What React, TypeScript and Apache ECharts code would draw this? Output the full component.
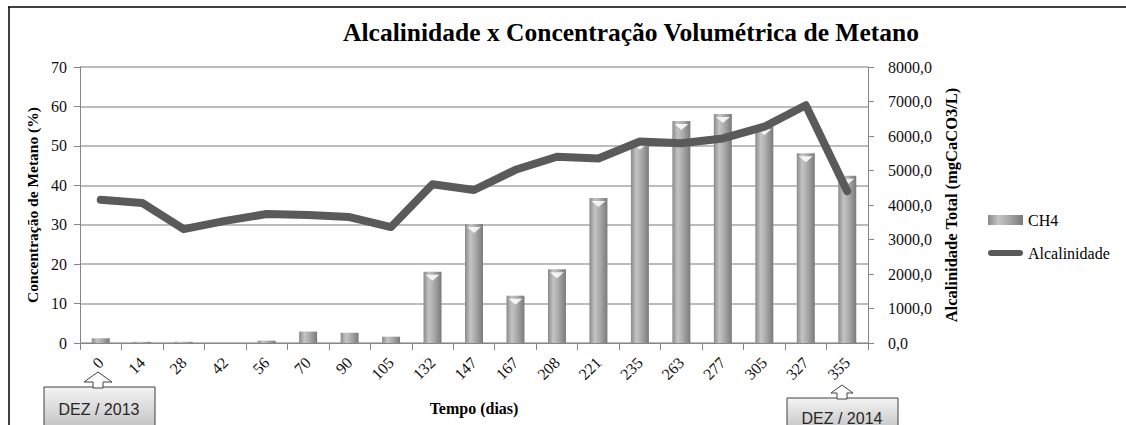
import React, { useEffect, useRef } from "react";
import * as echarts from "echarts";

const categories = ["0", "14", "28", "42", "56", "70", "90", "105", "132", "147", "167", "208", "221", "235", "263", "277", "305", "327", "355"];
const ch4 = [1.2, 0.3, 0.3, 0, 0.6, 2.9, 2.6, 1.6, 18.1, 30.2, 12.0, 18.7, 36.8, 51.3, 56.3, 58.1, 55.0, 48.1, 42.4];
const alcalinidade = [4150, 4060, 3300, 3540, 3740, 3710, 3650, 3360, 4600, 4435, 5020, 5400, 5350, 5840, 5790, 5930, 6270, 6890, 4400];
const leftTicks = { min: 0, max: 70, interval: 10 };
const rightTicks = { min: 0, max: 8000, interval: 1000 };

const SERIF = "Liberation Serif";
const SANS = "Liberation Sans";

export default function App() {
  const ref = useRef<HTMLDivElement>(null);
  useEffect(() => {
    document.body.style.margin = "0";
    const chart = echarts.init(ref.current!, null, { renderer: "svg" });
    const barGrad = new echarts.graphic.LinearGradient(0, 0, 1, 0, [
      { offset: 0, color: "#8a8a8a" },
      { offset: 0.3, color: "#c4c4c4" },
      { offset: 0.6, color: "#a8a8a8" },
      { offset: 1, color: "#7a7a7a" },
    ]);
    const boxGrad = new echarts.graphic.LinearGradient(0, 0, 0, 1, [
      { offset: 0, color: "#f4f4f4" },
      { offset: 1, color: "#b8b8b8" },
    ]);
    chart.setOption({
      animation: false,
      title: {
        text: "Alcalinidade x Concentração Volumétrica de Metano",
        left: 626,
        top: 14,
        textAlign: "center",
        textStyle: { fontFamily: SERIF, fontSize: 25.5, fontWeight: "bold", color: "#000" },
      },
      grid: { left: 80, right: 258, top: 67, bottom: 82 },
      legend: {
        orient: "vertical",
        left: 988,
        top: 212,
        padding: 0,
        itemWidth: 35,
        itemHeight: 10,
        itemGap: 17,
        textStyle: { fontFamily: SERIF, fontSize: 16, color: "#000" },
        data: [
          { name: "CH4", icon: "rect" },
          { name: "Alcalinidade", icon: "path://M3,0 h29 a3,3 0 0 1 0,6 h-29 a3,3 0 0 1 0,-6 Z", itemStyle: { color: "#5a5a5a" } },
        ],
      },
      xAxis: {
        type: "category",
        data: categories,
        name: "Tempo (dias)",
        nameLocation: "middle",
        nameGap: 57,
        nameTextStyle: { fontFamily: SERIF, fontSize: 16, fontWeight: "bold", color: "#000" },
        axisLine: { lineStyle: { color: "#868686", width: 1 } },
        axisTick: { show: true, alignWithLabel: false, length: 7, lineStyle: { color: "#868686" } },
        axisLabel: { rotate: 45, fontFamily: SERIF, fontSize: 16, color: "#111", margin: 17 },
      },
      yAxis: [
        {
          type: "value",
          ...leftTicks,
          name: "Concentração de Metano (%)",
          nameLocation: "middle",
          nameGap: 40,
          nameRotate: 90,
          nameTextStyle: { fontFamily: SERIF, fontSize: 15.5, fontWeight: "bold", color: "#000" },
          axisLine: { show: true, lineStyle: { color: "#868686" } },
          axisTick: { show: true, length: 6, lineStyle: { color: "#868686" } },
          axisLabel: { fontFamily: SERIF, fontSize: 16, color: "#111", margin: 13 },
          splitLine: { lineStyle: { color: "#a6a6a6", width: 1.5 } },
        },
        {
          type: "value",
          ...rightTicks,
          name: "Alcalinidade Total (mgCaCO3/L)",
          nameLocation: "middle",
          nameGap: 70,
          nameRotate: 90,
          nameTextStyle: { fontFamily: SERIF, fontSize: 16.5, fontWeight: "bold", color: "#000" },
          axisLine: { show: true, lineStyle: { color: "#868686" } },
          axisTick: { show: true, length: 6, lineStyle: { color: "#868686" } },
          axisLabel: {
            fontFamily: SERIF,
            fontSize: 16,
            color: "#111",
            margin: 20,
            formatter: (v: number) => v.toFixed(1).replace(".", ","),
          },
          splitLine: { show: false },
        },
      ],
      series: [
        {
          name: "CH4",
          type: "bar",
          data: ch4,
          barWidth: 18,
          barGap: "-100%",
          yAxisIndex: 0,
          itemStyle: { color: barGrad },
        },
        {
          name: "CH4top",
          type: "pictorialBar",
          data: ch4.map((v) => (v > 5 ? v : "-")),
          yAxisIndex: 0,
          symbol: "triangle",
          symbolRotate: 180,
          symbolSize: [14, 6],
          symbolPosition: "end",
          symbolOffset: [0, "50%"],
          itemStyle: { color: "rgba(255,255,255,0.85)" },
          z: 3,
          silent: true,
        },
        {
          name: "Alcalinidade",
          type: "line",
          data: alcalinidade,
          yAxisIndex: 1,
          symbol: "none",
          z: 5,
          lineStyle: { color: "#5a5a5a", width: 8, cap: "round", join: "round" },
          itemStyle: { color: "#5a5a5a" },
        },
      ],
      graphic: [
        { type: "line", shape: { x1: 8, y1: 7, x2: 1126, y2: 7 }, style: { stroke: "#000", lineWidth: 1.5 } },
        { type: "line", shape: { x1: 9, y1: 7, x2: 9, y2: 425 }, style: { stroke: "#000", lineWidth: 1.5 } },
        {
          type: "rect",
          shape: { x: 44, y: 387, width: 111, height: 50 },
          style: { fill: boxGrad, stroke: "#404040", lineWidth: 1 },
        },
        {
          type: "polygon",
          shape: { points: [[98, 372], [112, 382], [103, 382], [103, 388], [93, 388], [93, 382], [84, 382]] },
          style: { fill: "#ffffff", stroke: "#404040", lineWidth: 1 },
        },
        {
          type: "text",
          x: 99,
          y: 409,
          style: { text: "DEZ / 2013", fontFamily: SANS, fontSize: 16, fill: "#262626", align: "center", verticalAlign: "middle" },
        },
        {
          type: "rect",
          shape: { x: 787, y: 398, width: 111, height: 40 },
          style: { fill: boxGrad, stroke: "#404040", lineWidth: 1 },
        },
        {
          type: "polygon",
          shape: { points: [[842, 385], [853, 393], [847, 393], [847, 399], [837, 399], [837, 393], [831, 393]] },
          style: { fill: "#ffffff", stroke: "#404040", lineWidth: 1 },
        },
        {
          type: "text",
          x: 842,
          y: 418,
          style: { text: "DEZ / 2014", fontFamily: SANS, fontSize: 16, fill: "#262626", align: "center", verticalAlign: "middle" },
        },
      ],
    });
    return () => chart.dispose();
  }, []);
  return <div ref={ref} style={{ width: 1126, height: 425 }} />;
}
